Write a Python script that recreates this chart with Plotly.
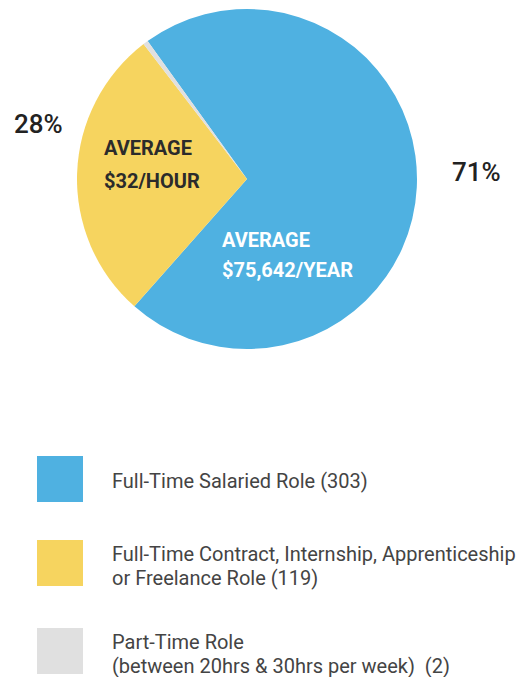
import plotly.graph_objects as go

categories = ["Full-Time Salaried Role", "Full-Time Contract, Internship, Apprenticeship<br>or Freelance Role", "Part-Time Role<br>(between 20hrs & 30hrs per week) "]
counts = [303, 119, 2]
colors = ["#4FB1E1", "#F6D45F", "#E0E0E0"]
pct_labels = ["71%", "28%"]
avg_blue = ["AVERAGE", "$75,642/YEAR"]
avg_yellow = ["AVERAGE", "$32/HOUR"]

OFF = 8  # page body margin
W, H = 529 - OFF, 677 - OFF
def px(x):
    return (x - OFF) / W
def py(y):
    return 1 - (y - OFF) / H

total = sum(counts)
yellow_mid = 272.0
yellow_start = yellow_mid - 360 * counts[1] / total / 2
blue_start = yellow_start + 360 * counts[1] / total + 360 * counts[2] / total

fig = go.Figure(go.Pie(
    labels=categories, values=counts, sort=False, direction="clockwise",
    rotation=blue_start - 360,
    marker=dict(colors=colors, line=dict(width=0)),
    textinfo="none", hoverinfo="none", showlegend=False,
    domain=dict(x=[px(77), px(417)], y=[py(349), py(9)]),
))

ann = []
ann.append(dict(x=px(38), y=py(124), text=pct_labels[1], showarrow=False, xanchor="center", yanchor="middle",
                font=dict(family="Roboto", size=26, color="#222222", weight=500)))
ann.append(dict(x=px(476), y=py(172), text=pct_labels[0], showarrow=False, xanchor="center", yanchor="middle",
                font=dict(family="Roboto", size=26, color="#222222", weight=500)))
for i, t in enumerate(avg_yellow):
    ann.append(dict(x=px(102), y=py(148 + 33 * i), text="<b>%s</b>" % t, showarrow=False, xanchor="left", yanchor="middle",
                    font=dict(family="Roboto", size=20, color="#2b2b2b")))
for i, t in enumerate(avg_blue):
    ann.append(dict(x=px(220), y=py(240 + 30 * i), text="<b>%s</b>" % t, showarrow=False, xanchor="left", yanchor="middle",
                    font=dict(family="Roboto", size=20, color="#ffffff")))

shapes = []
sq_tops = [456, 540, 628]
text_rows = [[481], [554, 578], [642, 666]]
for i, (lab, c, col) in enumerate(zip(categories, counts, colors)):
    shapes.append(dict(type="rect", xref="paper", yref="paper", x0=px(37), x1=px(83), y0=py(sq_tops[i] + 46), y1=py(sq_tops[i]),
                       fillcolor=col, line=dict(width=0)))
    lines = ("%s (%d)" % (lab, c)).split("<br>")
    for ln, yy in zip(lines, text_rows[i]):
        ann.append(dict(x=px(110), y=py(yy), text=ln, showarrow=False, xanchor="left", yanchor="middle",
                        align="left", font=dict(family="Roboto", size=20, color="#444444")))

fig.update_layout(width=W, height=H, margin=dict(l=0, r=0, t=0, b=0),
                  paper_bgcolor="white", plot_bgcolor="white",
                  annotations=ann, shapes=shapes)
fig.write_html("out.html")
